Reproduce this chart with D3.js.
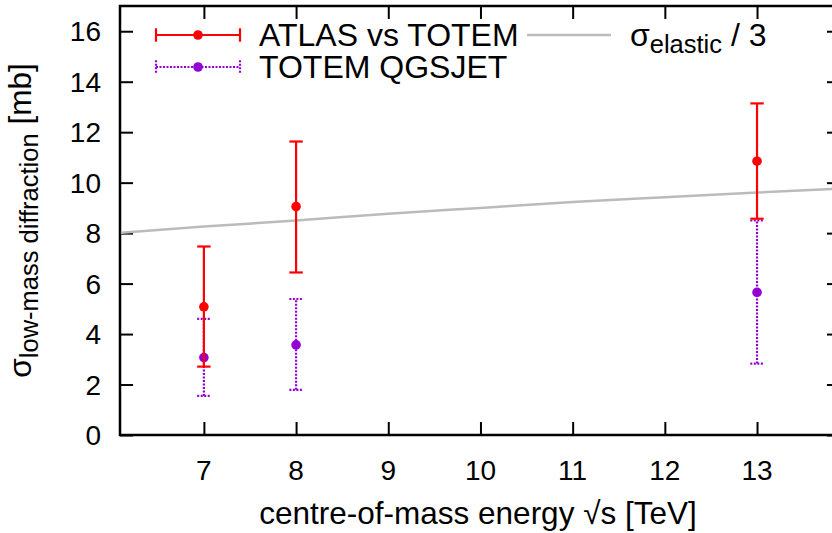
<!DOCTYPE html>
<html>
<head>
<meta charset="utf-8">
<script src="https://cdn.jsdelivr.net/npm/d3@7"></script>
<style>
  body { margin: 0; background: #fff; }
  text { font-family: "Liberation Sans", Arial, Helvetica, sans-serif; fill: #000; }
</style>
</head>
<body>
<div id="chart"></div>
<script>
// data
const energies = [7, 8, 13];
const atlasVal = [5.08, 9.05, 10.85];
const atlasLo = [2.71, 6.44, 8.57];
const atlasHi = [7.47, 11.63, 13.14];
const qgsVal = [3.07, 3.57, 5.65];
const qgsLo = [1.55, 1.79, 2.83];
const qgsHi = [4.6, 5.39, 8.5];
const elasticX = [6.1, 7, 8, 9, 10, 11, 12, 13, 13.9];
const elasticY = [8.01, 8.26, 8.5, 8.77, 9.0, 9.23, 9.42, 9.61, 9.76];
const xTicks = [7, 8, 9, 10, 11, 12, 13];
const yTicks = [0, 2, 4, 6, 8, 10, 12, 14, 16];

const W = 832, H = 533;
// right edge of the frame sits just outside the window, as in the reference
const m = { left: 120, right: 840, top: 6, bottom: 435 };
const RED = '#ff0000', PURPLE = '#9400d3', GREY = '#bbbbbb';

const svg = d3.select('#chart').append('svg')
  .attr('width', W).attr('height', H);

const x = d3.scaleLinear().domain([6.09, 13.9]).range([m.left, m.right]);
const y = d3.scaleLinear().domain([0, 17]).range([m.bottom, m.top]);

svg.append('clipPath').attr('id', 'clip')
  .append('rect').attr('x', m.left).attr('y', m.top)
  .attr('width', m.right - m.left).attr('height', m.bottom - m.top);

// ticks, inward on all four sides
const tickLen = 13;
const bottomAxis = d3.axisBottom(x).tickValues(xTicks).tickSize(-tickLen).tickFormat('');
const topAxis = d3.axisTop(x).tickValues(xTicks).tickSize(-tickLen).tickFormat('');
const leftAxis = d3.axisLeft(y).tickValues(yTicks).tickSize(-tickLen).tickFormat('');
const rightAxis = d3.axisRight(y).tickValues(yTicks).tickSize(-tickLen).tickFormat('');
[
  [bottomAxis, `translate(0,${m.bottom})`],
  [topAxis, `translate(0,${m.top})`],
  [leftAxis, `translate(${m.left},0)`],
  [rightAxis, `translate(${m.right},0)`]
].forEach(([ax, tr]) => {
  const g = svg.append('g').attr('transform', tr).call(ax);
  g.select('.domain').remove();
  g.selectAll('.tick line').attr('stroke', '#000').attr('stroke-width', 2);
});

// frame
svg.append('rect')
  .attr('x', m.left).attr('y', m.top)
  .attr('width', m.right - m.left).attr('height', m.bottom - m.top)
  .attr('fill', 'none').attr('stroke', '#000').attr('stroke-width', 2.5);

// tick labels
svg.append('g').selectAll('text').data(xTicks).join('text')
  .attr('x', d => x(d)).attr('y', 480)
  .attr('text-anchor', 'middle').attr('font-size', 28)
  .text(d => d);
svg.append('g').selectAll('text').data(yTicks).join('text')
  .attr('x', 101).attr('y', d => y(d)).attr('dy', '0.36em')
  .attr('text-anchor', 'end').attr('font-size', 28)
  .text(d => d);

// axis titles
svg.append('text')
  .attr('x', 478).attr('y', 524)
  .attr('text-anchor', 'middle').attr('font-size', 31.5)
  .text('centre-of-mass energy √s [TeV]');

const yl = svg.append('text')
  .attr('transform', `translate(31,${(m.top + m.bottom) / 2}) rotate(-90)`)
  .attr('text-anchor', 'middle').attr('font-size', 31.5);
yl.append('tspan').text('σ');
yl.append('tspan').attr('font-size', 25.5).attr('dy', 7).text('low-mass diffraction');
yl.append('tspan').attr('dy', -7).text(' [mb]');

// elastic / 3 curve
const plot = svg.append('g').attr('clip-path', 'url(#clip)');
plot.append('path')
  .datum(elasticX.map((v, i) => [v, elasticY[i]]))
  .attr('d', d3.line().x(d => x(d[0])).y(d => y(d[1])).curve(d3.curveMonotoneX))
  .attr('fill', 'none').attr('stroke', GREY).attr('stroke-width', 2.5);

// error bar series
function errSeries(vals, lo, hi, color, dash) {
  const g = plot.append('g');
  const cap = 6.7;
  energies.forEach((e, i) => {
    const cx = x(e);
    g.append('line').attr('x1', cx).attr('x2', cx)
      .attr('y1', y(lo[i])).attr('y2', y(hi[i]))
      .attr('stroke', color).attr('stroke-width', 2.2).attr('stroke-dasharray', dash);
    [lo[i], hi[i]].forEach(v => {
      g.append('line').attr('x1', cx - cap).attr('x2', cx + cap)
        .attr('y1', y(v)).attr('y2', y(v))
        .attr('stroke', color).attr('stroke-width', 2.2).attr('stroke-dasharray', dash);
    });
    g.append('circle').attr('cx', cx).attr('cy', y(vals[i])).attr('r', 4.8).attr('fill', color);
  });
}
errSeries(qgsVal, qgsLo, qgsHi, PURPLE, '2,1.5');
errSeries(atlasVal, atlasLo, atlasHi, RED, null);

// legend
const leg = svg.append('g');
function legErr(yy, color, dash, label) {
  leg.append('line').attr('x1', 156).attr('x2', 240).attr('y1', yy).attr('y2', yy)
    .attr('stroke', color).attr('stroke-width', 2.2).attr('stroke-dasharray', dash);
  [156, 240].forEach(xx => {
    leg.append('line').attr('x1', xx).attr('x2', xx).attr('y1', yy - 6.7).attr('y2', yy + 6.7)
      .attr('stroke', color).attr('stroke-width', 2.2).attr('stroke-dasharray', dash);
  });
  leg.append('circle').attr('cx', 198).attr('cy', yy).attr('r', 4.8).attr('fill', color);
  leg.append('text').attr('x', 259).attr('y', yy + 11).attr('font-size', 32).text(label);
}
legErr(35, RED, null, 'ATLAS vs TOTEM');
legErr(67, PURPLE, '2,1.5', 'TOTEM QGSJET');

leg.append('line').attr('x1', 527).attr('x2', 611).attr('y1', 35).attr('y2', 35)
  .attr('stroke', GREY).attr('stroke-width', 2.5);
const el = leg.append('text').attr('x', 630).attr('y', 46).attr('font-size', 32);
el.append('tspan').text('σ');
el.append('tspan').attr('font-size', 25.5).attr('dy', 7).text('elastic');
el.append('tspan').attr('dy', -7).text(' / 3');
</script>
</body>
</html>
